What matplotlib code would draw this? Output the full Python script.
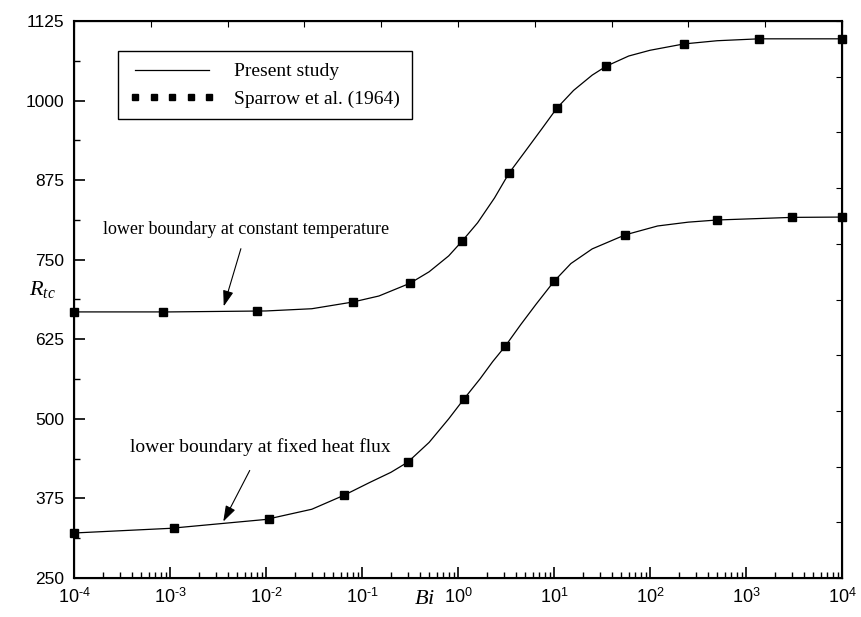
import numpy as np
import matplotlib
matplotlib.use("Agg")
import matplotlib.pyplot as plt

plt.rcParams["font.family"] = ["Liberation Sans", "DejaVu Sans"]
plt.rcParams["mathtext.fontset"] = "custom"
plt.rcParams["mathtext.rm"] = "Liberation Sans"
plt.rcParams["mathtext.it"] = "Liberation Serif:italic"

# Sparrow et al. (1964) symbols
bi_temp = [1e-4, 8.5e-4, 8.0e-3, 0.081, 0.316, 1.1, 3.4, 10.7, 35, 226, 1365, 1e4]
rtc_temp = [668, 668, 669.5, 683.5, 713, 779, 886, 988, 1054, 1089, 1097, 1097]
bi_flux = [1e-4, 1.1e-3, 0.0107, 0.065, 0.30, 1.15, 3.1, 10, 55, 500, 3000, 1e4]
rtc_flux = [320.7, 328.5, 342.7, 380.4, 432, 531, 614.4, 716.5, 788.8, 812.4, 817, 817]

# present study curves
bi_line_temp = [1e-4, 1e-3, 1e-2, 0.03, 0.08, 0.15, 0.316, 0.5, 0.8, 1.1, 1.6, 2.4,
                3.4, 5, 7.5, 10.7, 16, 25, 35, 60, 100, 226, 500, 1365, 1e4]
rtc_line_temp = [668, 668, 669.5, 673, 683.5, 693, 713, 731, 756, 779, 808, 847,
                 886, 920, 956, 988, 1016, 1040, 1054, 1070, 1079, 1089, 1094, 1097, 1097]
bi_line_flux = [1e-4, 1e-3, 1e-2, 0.03, 0.065, 0.12, 0.2, 0.3, 0.5, 0.8, 1.15, 1.7,
                2.3, 3.1, 4.5, 6.5, 10, 15, 25, 55, 120, 250, 500, 3000, 1e4]
rtc_line_flux = [320.7, 328, 342, 358, 380, 400, 416, 432, 463, 500, 531, 563,
                 590, 614, 648, 680, 716, 744, 767, 789, 803, 809, 812.4, 816.5, 817]

yticks = [250, 375, 500, 625, 750, 875, 1000, 1125]
xticks = [1e-4, 1e-3, 1e-2, 1e-1, 1e0, 1e1, 1e2, 1e3, 1e4]
xticklabels = [r"$10^{\text{-}4}$", r"$10^{\text{-}3}$", r"$10^{\text{-}2}$",
               r"$10^{\text{-}1}$", "$10^{0}$", "$10^{1}$", "$10^{2}$",
               "$10^{3}$", "$10^{4}$"]

fig = plt.figure(figsize=(8.61, 6.17), dpi=100)
ax = fig.add_axes([74 / 861, 1 - 578 / 617, 768 / 861, 557 / 617])

ax.plot(bi_line_temp, rtc_line_temp, color="k", lw=0.9, label="Present study")
ax.plot(bi_line_flux, rtc_line_flux, color="k", lw=0.9)
ax.plot(bi_temp, rtc_temp, ls="none", marker="s", ms=5.8, color="k",
        label="Sparrow et al. (1964)", clip_on=False)
ax.plot(bi_flux, rtc_flux, ls="none", marker="s", ms=5.8, color="k", clip_on=False)

ax.set_xscale("log")
ax.set_xlim(1e-4, 1e4)
ax.set_ylim(250, 1125)
ax.set_xticks(xticks)
ax.set_xticklabels(xticklabels, fontsize=13)
ax.set_yticks(yticks)
ax.set_yticklabels([str(v) for v in yticks], fontsize=12.5)
ax.set_yticks(np.arange(312.5, 1125, 125), minor=True)
ax.xaxis.set_minor_locator(matplotlib.ticker.LogLocator(base=10, subs=np.arange(2, 10), numticks=20))
ax.xaxis.set_minor_formatter(matplotlib.ticker.NullFormatter())
ax.tick_params(which="major", direction="in", length=8, width=1.2)
ax.tick_params(axis="x", which="major", pad=7)
ax.tick_params(axis="y", which="major", pad=7)
ax.tick_params(which="minor", direction="in", length=4, width=1.0)
ax.tick_params(top=False, right=False)
for s in ax.spines.values():
    s.set_linewidth(1.5)

# opposite axes with plain evenly spaced ticks
axt = ax.twiny()
axt.set_xlim(0, 10)
axt.set_xticks(range(11))
axt.tick_params(direction="in", length=4, labeltop=False)
axr = ax.twinx()
axr.set_ylim(0, 10)
axr.set_yticks(range(11))
axr.tick_params(direction="in", length=4, labelright=False)

leg = ax.legend(loc="upper left", bbox_to_anchor=(0.057, 0.946), borderaxespad=0,
                fancybox=False, edgecolor="k", framealpha=1, numpoints=5,
                markerscale=0.8, handlelength=4.4, handletextpad=1.0,
                borderpad=0.6, labelspacing=0.5,
                prop={"family": "Liberation Serif", "size": 14})
leg.get_frame().set_linewidth(1.0)

ax.annotate("", xy=(3.56e-3, 672.6), xytext=(5.58e-3, 771.5),
            arrowprops=dict(arrowstyle="-|>,head_length=0.6,head_width=0.2",
                            color="k", lw=0.8, mutation_scale=16))
ax.annotate("", xy=(3.48e-3, 334.8), xytext=(6.98e-3, 422.8),
            arrowprops=dict(arrowstyle="-|>,head_length=0.6,head_width=0.2",
                            color="k", lw=0.8, mutation_scale=16))
ax.text(6.19e-3, 798, "lower boundary at constant temperature", ha="center", va="center",
        family="Liberation Serif", fontsize=13)
ax.text(8.66e-3, 455.8, "lower boundary at fixed heat flux", ha="center", va="center",
        family="Liberation Serif", fontsize=14)

fig.text(425 / 861, 1 - 598 / 617, "$Bi$", ha="center", va="center", fontsize=16)
fig.text(42 / 861, 1 - 290 / 617, "$R_{tc}$", ha="center", va="center", fontsize=16)

fig.savefig("out.png", dpi=100)
